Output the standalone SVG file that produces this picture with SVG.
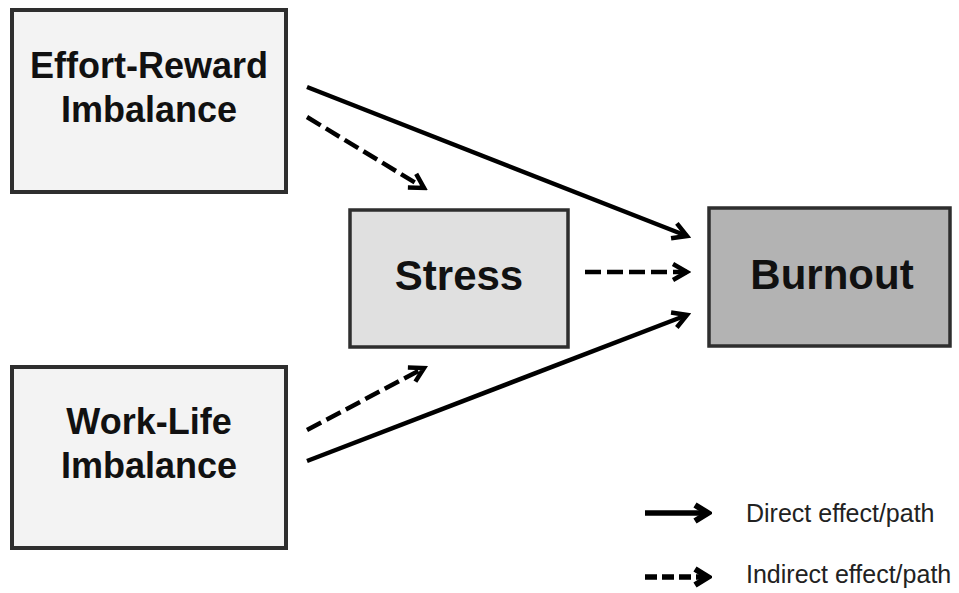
<svg xmlns="http://www.w3.org/2000/svg" width="959" height="593" viewBox="0 0 959 593">
  <style>
    .box { stroke: #2e2e2e; stroke-width: 4; }
    .light { fill: #f3f3f3; }
    .mid { fill: #e0e0e0; stroke-width: 3.5; }
    .dark { fill: #b3b3b3; stroke-width: 3.5; }
    .label { font-family: "Liberation Sans", Arial, sans-serif; font-weight: bold; fill: #111; text-anchor: middle; }
    .legend { font-family: "Liberation Sans", Arial, sans-serif; font-size: 25px; fill: #222; }
    .edge { fill: none; stroke: #000; stroke-width: 4.5; }
    .thick { stroke-width: 5.5; }
    .dash { stroke-dasharray: 16 6; }
    .ldash { stroke-dasharray: 12 5; }
  </style>
  <defs>
    <marker id="arrow" markerUnits="userSpaceOnUse" viewBox="-20 -12 24 24" refX="0" refY="0" markerWidth="24" markerHeight="24" orient="auto">
      <path d="M-14,-8 L0,0 L-14,8" fill="none" stroke="#000" stroke-width="4.5" stroke-linejoin="miter"/>
    </marker>
    <marker id="arrow-bold" markerUnits="userSpaceOnUse" viewBox="-20 -12 24 24" refX="0" refY="0" markerWidth="24" markerHeight="24" orient="auto">
      <path d="M-13,-8 L0,0 L-13,8" fill="none" stroke="#000" stroke-width="6" stroke-linejoin="miter"/>
    </marker>
  </defs>
  <rect width="959" height="593" fill="#ffffff"/>

  <g id="effort-reward">
    <rect class="box light" x="12" y="10" width="274" height="182"/>
    <text class="label" x="149" y="78" font-size="36">Effort-Reward</text>
    <text class="label" x="149" y="122" font-size="36">Imbalance</text>
  </g>

  <g id="work-life">
    <rect class="box light" x="12" y="367" width="274" height="181"/>
    <text class="label" x="149" y="434" font-size="36">Work-Life</text>
    <text class="label" x="149" y="478" font-size="36">Imbalance</text>
  </g>

  <g id="stress">
    <rect class="box mid" x="350" y="210" width="218" height="137"/>
    <text class="label" x="459" y="290" font-size="42">Stress</text>
  </g>

  <g id="burnout">
    <rect class="box dark" x="709" y="208" width="241" height="138"/>
    <text class="label" x="832" y="289" font-size="42">Burnout</text>
  </g>

  <g id="connectors">
    <line class="edge" x1="307" y1="87" x2="687" y2="236" marker-end="url(#arrow)"/>
    <line class="edge dash" x1="307" y1="117" x2="424" y2="188" marker-end="url(#arrow)"/>
    <line class="edge dash" x1="585" y1="272" x2="687" y2="272" marker-end="url(#arrow)"/>
    <line class="edge" x1="307" y1="461" x2="687" y2="315" marker-end="url(#arrow)"/>
    <line class="edge dash" x1="307" y1="430" x2="424" y2="368" marker-end="url(#arrow)"/>
  </g>

  <g id="legend">
    <line class="edge thick" x1="645" y1="513" x2="708" y2="513" marker-end="url(#arrow-bold)"/>
    <text class="legend" x="746" y="522">Direct effect/path</text>
    <line class="edge thick ldash" x1="645" y1="577" x2="708" y2="577" marker-end="url(#arrow-bold)"/>
    <text class="legend" x="746" y="583">Indirect effect/path</text>
  </g>
</svg>
